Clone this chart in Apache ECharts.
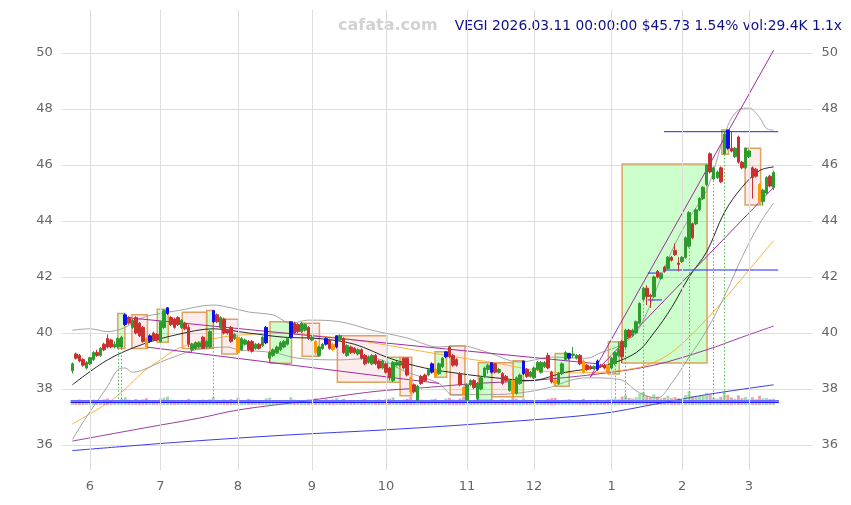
<!DOCTYPE html>
<html>
<head>
<meta charset="utf-8">
<script src="https://cdn.jsdelivr.net/npm/echarts@6/dist/echarts.min.js"></script>
<style>
html, body { margin: 0; padding: 0; background: #fff; }
#chart { width: 851px; height: 505px; }
</style>
</head>
<body>
<div id="chart"></div>
<script>
// trading-day index of the first session of each month, and its label
const monthTicks = [5, 25, 47, 68, 89, 112, 131, 153, 173, 192];
const monthLabels = ['6', '7', '8', '9', '10', '11', '12', '1', '2', '3'];

// daily OHLC, 2025-05-23 .. 2026-03-11 (200 sessions)
const opens = [
  38.65, 39.25, 39.2, 39.05, 38.75, 38.9, 39.05, 39.3, 39.2, 39.6, 39.8, 39.75, 39.5, 39.5, 39.5, 40.3, 40.55, 40.2, 40.55, 40.35,
  40.2, 39.8, 39.7, 40.0, 39.95, 39.7, 40.2, 40.7, 40.55, 40.5, 40.55, 40.2, 40.35, 40.2, 39.4, 39.45, 39.5, 39.85, 39.5, 39.5,
  40.4, 40.65, 40.2, 40.5, 40.1, 40.2, 39.8, 39.85, 39.4, 39.6, 39.7, 39.7, 39.45, 39.6, 39.55, 39.65, 39.1, 39.2, 39.3, 39.4,
  39.5, 39.6, 39.85, 40.35, 40.3, 40.05, 40.1, 40.2, 39.75, 39.7, 39.2, 39.45, 39.6, 39.75, 39.6, 39.5, 39.75, 39.8, 39.2, 39.5,
  39.45, 39.25, 39.4, 39.2, 38.95, 38.9, 39.2, 39.0, 38.75, 38.9, 38.75, 38.3, 38.85, 38.85, 39.1, 39.1, 38.4, 38.15, 37.6, 38.45,
  38.5, 38.5, 38.6, 38.7, 38.55, 38.8, 39.15, 39.5, 39.2, 39.05, 38.55, 38.05, 37.6, 38.15, 38.3, 37.65, 38.0, 38.45, 38.7, 38.6,
  38.9, 38.6, 38.55, 38.45, 37.95, 38.3, 37.85, 38.2, 38.55, 38.7, 38.45, 38.4, 38.7, 38.6, 38.8, 39.2, 38.6, 38.3, 38.2, 38.55,
  39.05, 39.1, 39.2, 39.1, 39.2, 39.0, 38.85, 38.8, 38.75, 38.7, 38.85, 38.85, 38.85, 38.75, 38.9, 39.2, 39.7, 39.5, 40.1, 39.9,
  40.0, 40.35, 41.2, 41.6, 41.35, 41.3, 42.2, 41.95, 42.35, 42.3, 42.7, 42.95, 42.5, 42.55, 42.7, 43.1, 43.9, 43.9, 44.4, 44.8,
  45.3, 46.4, 45.5, 45.55, 45.9, 46.4, 47.25, 46.6, 46.3, 47.0, 46.1, 45.9, 46.3, 45.9, 45.85, 45.3, 44.7, 45.0, 45.6, 45.2
];
const closes = [
  38.9, 39.1, 39.0, 38.85, 38.95, 39.12, 39.3, 39.2, 39.45, 39.4, 39.5, 39.5, 39.6, 39.8, 39.85, 40.65, 40.35, 40.45, 40.0, 39.9,
  39.7, 39.5, 39.9, 39.75, 39.75, 40.4, 40.8, 40.9, 40.3, 40.2, 40.3, 40.45, 40.15, 39.6, 39.6, 39.65, 39.65, 39.45, 39.7, 40.05,
  40.8, 40.4, 40.55, 40.0, 40.0, 39.7, 39.95, 39.3, 39.8, 39.75, 39.4, 39.35, 39.6, 39.45, 39.85, 40.2, 39.3, 39.4, 39.5, 39.65,
  39.7, 39.8, 40.4, 40.0, 40.05, 40.35, 40.3, 39.8, 39.85, 39.3, 39.5, 39.6, 39.8, 39.45, 39.4, 39.9, 39.9, 39.3, 39.55, 39.3,
  39.3, 39.4, 39.1, 38.9, 39.15, 39.2, 38.9, 38.75, 39.0, 38.6, 38.4, 38.95, 38.95, 38.95, 38.75, 38.5, 37.9, 37.9, 38.1, 38.2,
  38.3, 38.7, 38.9, 38.45, 38.9, 39.1, 39.33, 39.15, 38.85, 38.85, 38.15, 37.8, 38.15, 38.3, 38.05, 38.2, 38.4, 38.75, 38.85, 38.94,
  38.6, 38.7, 38.2, 38.3, 38.3, 37.85, 38.4, 38.5, 39.0, 38.45, 38.6, 38.75, 38.95, 38.95, 38.95, 38.75, 38.25, 38.2, 38.55, 38.9,
  39.3, 39.27, 39.25, 39.2, 38.9, 38.6, 38.7, 38.75, 38.8, 39.0, 38.8, 38.75, 38.6, 39.1, 39.3, 39.4, 39.15, 40.1, 39.85, 40.1,
  40.4, 41.05, 41.6, 41.3, 41.3, 42.0, 42.0, 42.1, 42.2, 42.7, 42.6, 42.8, 42.45, 42.7, 43.4, 44.3, 43.4, 44.4, 44.8, 45.2,
  46.0, 45.75, 45.9, 45.75, 45.4, 47.1, 46.6, 46.5, 46.6, 46.1, 45.9, 46.6, 46.5, 45.55, 45.6, 44.7, 45.1, 45.55, 45.25, 45.73
];
const lows = [
  38.55, 39.05, 38.95, 38.8, 38.7, 38.85, 39.0, 39.15, 39.15, 39.35, 39.45, 39.45, 39.45, 39.45, 39.45, 40.25, 40.3, 40.15, 39.95, 39.85,
  39.65, 39.45, 39.65, 39.7, 39.7, 39.65, 40.15, 40.65, 40.25, 40.15, 40.25, 40.15, 40.1, 39.5, 39.3, 39.4, 39.45, 39.45, 39.45, 39.45,
  40.35, 40.35, 40.15, 39.95, 39.95, 39.65, 39.75, 39.25, 39.35, 39.55, 39.35, 39.3, 39.4, 39.4, 39.5, 39.6, 38.95, 39.15, 39.25, 39.35,
  39.45, 39.55, 39.8, 39.95, 40.0, 40.0, 40.05, 39.75, 39.7, 39.2, 39.15, 39.4, 39.55, 39.4, 39.35, 39.45, 39.7, 39.25, 39.15, 39.25,
  39.25, 39.2, 39.05, 38.85, 38.9, 38.85, 38.85, 38.7, 38.7, 38.55, 38.3, 38.25, 38.8, 38.8, 38.7, 38.45, 37.8, 37.85, 37.5, 38.15,
  38.25, 38.45, 38.55, 38.42, 38.5, 38.75, 39.1, 39.1, 38.8, 38.8, 38.1, 37.79, 37.55, 38.1, 38.0, 37.6, 37.95, 38.4, 38.55, 38.55,
  38.55, 38.55, 38.15, 38.25, 37.9, 37.72, 37.8, 38.15, 38.5, 38.4, 38.4, 38.35, 38.65, 38.55, 38.75, 38.7, 38.2, 38.1, 38.15, 38.5,
  39.0, 39.05, 39.1, 39.05, 38.85, 38.55, 38.65, 38.7, 38.7, 38.65, 38.75, 38.7, 38.54, 38.7, 38.85, 39.15, 38.93, 39.45, 39.8, 39.85,
  39.95, 40.3, 41.15, 41.0, 40.9, 41.25, 41.95, 41.9, 42.15, 42.25, 42.55, 42.75, 42.2, 42.5, 42.65, 43.05, 43.35, 43.85, 44.35, 44.75,
  45.25, 45.7, 45.45, 45.5, 45.35, 46.38, 46.55, 46.45, 46.25, 46.05, 45.85, 45.85, 46.25, 44.8, 45.55, 44.6, 44.55, 44.95, 45.2, 45.1
];
const highs = [
  38.95, 39.3, 39.25, 39.1, 39.0, 39.15, 39.35, 39.4, 39.5, 39.65, 39.95, 39.8, 39.7, 39.85, 39.9, 40.7, 40.6, 40.5, 40.6, 40.4,
  40.25, 39.85, 39.95, 40.05, 40.0, 40.45, 40.85, 40.92, 40.6, 40.55, 40.6, 40.5, 40.4, 40.3, 39.65, 39.7, 39.7, 39.9, 39.75, 40.1,
  40.8, 40.7, 40.6, 40.55, 40.15, 40.25, 40.0, 39.9, 39.85, 39.8, 39.75, 39.75, 39.65, 39.65, 39.9, 40.25, 39.35, 39.45, 39.55, 39.7,
  39.75, 39.85, 40.4, 40.4, 40.35, 40.4, 40.35, 40.25, 39.9, 39.75, 39.55, 39.65, 39.85, 39.8, 39.65, 39.9, 39.95, 39.85, 39.6, 39.55,
  39.5, 39.45, 39.45, 39.25, 39.2, 39.25, 39.25, 39.05, 39.05, 38.95, 38.8, 39.0, 39.0, 39.0, 39.13, 39.13, 38.45, 38.2, 38.15, 38.5,
  38.55, 38.75, 38.95, 38.75, 38.95, 39.15, 39.33, 39.54, 39.25, 39.1, 38.6, 38.1, 38.2, 38.35, 38.35, 38.25, 38.45, 38.8, 38.9, 38.94,
  38.94, 38.75, 38.6, 38.5, 38.35, 38.35, 38.45, 38.55, 39.01, 38.75, 38.65, 38.8, 39.0, 39.0, 39.0, 39.3, 38.65, 38.35, 38.6, 38.95,
  39.35, 39.27, 39.5, 39.25, 39.25, 39.05, 38.9, 38.85, 38.85, 39.05, 38.9, 38.9, 38.9, 39.15, 39.35, 39.69, 39.75, 40.15, 40.15, 40.15,
  40.45, 41.1, 41.65, 41.7, 41.4, 42.05, 42.25, 42.15, 42.4, 42.75, 42.75, 43.2, 42.7, 42.75, 43.45, 44.35, 43.95, 44.45, 44.85, 45.25,
  46.04, 46.45, 45.95, 45.8, 45.95, 47.2, 47.25, 47.2, 46.65, 47.05, 46.15, 46.6, 46.55, 45.95, 45.9, 45.35, 45.15, 45.6, 45.65, 45.8
];
// volume, thousands of shares
const volumes = [
  22, 18, 25, 20, 16, 19, 24, 17, 21, 26, 30, 22, 18, 20, 28, 35, 24, 19, 27, 23,
  25, 31, 20, 18, 22, 29, 33, 38, 24, 21, 19, 22, 20, 28, 17, 16, 18, 24, 19, 26,
  36, 23, 21, 25, 18, 27, 20, 34, 22, 19, 28, 24, 17, 21, 18, 30, 33, 20, 18, 19,
  17, 21, 35, 24, 20, 18, 22, 26, 16, 30, 21, 18, 27, 23, 25, 31, 19, 28, 17, 22,
  20, 18, 24, 26, 17, 19, 23, 25, 18, 27, 29, 34, 18, 16, 24, 28, 36, 22, 31, 24,
  20, 19, 26, 28, 18, 21, 29, 33, 25, 22, 30, 38, 32, 19, 23, 27, 20, 22, 18, 25,
  21, 17, 26, 20, 24, 34, 28, 19, 30, 22, 18, 20, 19, 17, 18, 29, 31, 33, 22, 21,
  24, 27, 18, 16, 22, 28, 17, 15, 14, 24, 16, 15, 25, 27, 30, 26, 38, 44, 32, 29,
  35, 52, 58, 41, 36, 49, 38, 30, 33, 42, 31, 36, 30, 27, 45, 62, 40, 38, 41, 44,
  55, 48, 33, 29, 37, 58, 46, 34, 28, 44, 31, 36, 27, 35, 26, 41, 30, 32, 27, 29
];
const blueIdx = [15, 22, 27, 40, 55, 62, 72, 75, 102, 106, 119, 128, 141, 149, 186];
const orangeIdx = [21, 47, 69, 74, 96, 103, 111, 125, 137, 145, 152, 195];
const signalIdx = [13, 14, 40, 154, 157, 162, 175, 182, 185];

// indicator lines, [session index, price]
const maFast = [[0,38.15],[10,39.04],[20,39.6],[30,39.95],[40,40.15],[50,40.0],[60,39.85],[70,39.8],[80,39.6],[90,39.1],[100,38.75],[110,38.55],[120,38.4],[130,38.3],[140,38.6],[150,38.8],[160,39.3],[165,40.0],[170,40.9],[175,42.0],[180,42.9],[185,44.3],[190,45.2],[195,45.8],[199,45.93]];
const maMid = [[0,36.75],[10,37.5],[15,38.0],[20,38.6],[25,39.04],[30,39.45],[40,39.8],[50,39.95],[60,40.0],[70,39.9],[80,39.75],[90,39.55],[100,39.33],[110,39.12],[120,38.93],[130,38.7],[140,38.58],[150,38.6],[160,38.75],[165,38.95],[170,39.3],[175,39.85],[180,40.5],[185,41.2],[190,41.95],[195,42.7],[199,43.3]];
const maSlow = [[0,36.14],[20,36.6],[36,36.96],[47,37.25],[65,37.55],[85,37.9],[100,38.05],[115,38.2],[130,38.3],[150,38.55],[165,38.85],[180,39.4],[190,39.85],[199,40.25]];
const maLong = [[0,35.8],[30,36.1],[60,36.35],[90,36.55],[120,36.8],[150,37.12],[165,37.45],[180,37.8],[199,38.15]];
const bbUpper = [[0,40.1],[5,40.15],[10,40.05],[15,40.2],[20,40.55],[25,40.7],[30,40.8],[40,41.0],[45,40.9],[50,40.75],[57,40.64],[62,40.35],[67,40.46],[76,40.4],[85,40.1],[95,39.82],[104,39.5],[110,39.55],[118,39.3],[127,38.96],[136,39.14],[146,39.1],[150,39.3],[156,39.6],[161,40.2],[170,42.9],[175,44.1],[180,45.1],[186,47.4],[189,47.96],[192,48.03],[195,47.7],[197,47.3],[199,47.25]];
const bbLower = [[0,36.2],[4,37.0],[10,38.1],[13,38.7],[15,38.75],[17,38.6],[20,38.68],[25,38.96],[30,39.2],[35,39.4],[44,39.5],[47,39.4],[57,39.3],[64,39.1],[76,39.04],[85,39.1],[95,38.6],[104,38.2],[108,37.8],[118,37.8],[127,37.86],[136,38.07],[141,38.3],[146,38.4],[155,38.35],[161,37.86],[166,37.68],[170,38.2],[175,39.14],[180,40.1],[185,41.3],[190,42.7],[195,43.9],[199,44.64]];

// trend lines, [[from index, price], [to index, price]]
const trendLines = [
  [[15.4, 40.55], [149, 38.9]],
  [[21, 39.5], [104, 38.2]],
  [[147, 38.43], [199, 50.1]],
  [[147, 38.43], [199, 45.2]]
];
// horizontal levels [from index, to index, price]
const levels = [
  [167.9, 200.3, 47.19],
  [168.2, 200.3, 42.25],
  [163.3, 167.3, 42.14],
  [163.3, 167.3, 41.18]
];
const volLevels = [37.58, 37.52];
// zones [from index, to index, low, high, kind]
const boxes = [
  [12.9, 14.9, 39.45, 40.7, 'g'], [16.9, 21.3, 39.45, 40.65, 'p'], [24.1, 27.2, 39.67, 40.85, 'g'],
  [31.2, 38.1, 39.45, 40.74, 'p'], [38.1, 40.0, 39.45, 40.8, 'g'], [42.4, 47.1, 39.25, 40.49, 'p'],
  [56.1, 62.2, 38.92, 40.4, 'g'], [65.2, 70.1, 39.17, 40.35, 'p'], [75.2, 89.2, 38.24, 39.9, 'p'],
  [89.2, 93.0, 38.24, 39.13, 'g'], [93.0, 96.3, 37.76, 39.13, 'p'], [102.9, 106.2, 38.42, 39.33, 'g'],
  [107.2, 111.4, 37.79, 39.54, 'p'], [115.2, 119.0, 37.6, 38.94, 'g'], [119.0, 125.1, 37.72, 38.94, 'p'],
  [125.1, 128.0, 37.72, 39.01, 'g'], [137.0, 141.0, 38.1, 39.27, 'g'], [152.1, 155.2, 38.54, 39.69, 'g'],
  [156.0, 180.1, 38.93, 46.04, 'g'], [184.3, 186.2, 46.38, 47.25, 'g'], [190.9, 195.3, 44.57, 46.6, 'p']
];

const GREEN = '#2e9b2e', RED = '#c8312f', BLUE = '#1010ee', ORANGE = '#ff9900';
const VOL_BASE = 37.55;

const candleData = opens.map((o, i) => {
  const item = { value: [i, o, closes[i], lows[i], highs[i]] };
  let c = null;
  if (blueIdx.includes(i)) c = BLUE;
  else if (orangeIdx.includes(i)) c = ORANGE;
  if (c) item.itemStyle = { color: c, color0: c, borderColor: c, borderColor0: c };
  return item;
});
const volData = volumes.map((v, i) => ({
  value: [i, v],
  itemStyle: { color: closes[i] >= opens[i] ? 'rgba(60,170,60,0.45)' : 'rgba(210,60,60,0.45)' }
}));

function lineSeries(data, color, width, smooth, z) {
  return {
    type: 'line', xAxisIndex: 1, yAxisIndex: 1, data: data,
    showSymbol: false, smooth: smooth, clip: false, silent: true, z: z || 3,
    lineStyle: { color: color, width: width }
  };
}

const chart = echarts.init(document.getElementById('chart'));
const option = {
  animation: false,
  backgroundColor: '#fff',
  textStyle: { fontFamily: 'DejaVu Sans' },
  graphic: [
    { type: 'text', x: 338, y: 26, style: { text: 'cafata.com', fill: '#d2d2d2', font: 'bold 16px "DejaVu Sans"', verticalAlign: 'middle' } },
    { type: 'text', x: 842, y: 26, style: { text: 'VEGI 2026.03.11 00:00:00 $45.73 1.54% vol:29.4K 1.1x', fill: '#10108a', font: '13.8px "DejaVu Sans"', align: 'right', verticalAlign: 'middle' } }
  ],
  grid: [
    { left: 61.8, right: 38.6, top: 10, bottom: 35, containLabel: false, outerBoundsMode: 'none' },
    { left: 61.8, right: 38.6, top: 53, bottom: 60, containLabel: false, outerBoundsMode: 'none' }
  ],
  xAxis: [
    {
      type: 'value', gridIndex: 0, min: -3, max: 210, interval: 1,
      axisLine: { show: false }, axisTick: { show: false }, splitLine: { show: false },
      axisLabel: {
        color: '#666', fontSize: 13, margin: 10,
        formatter: v => { const k = monthTicks.indexOf(v); return k >= 0 ? monthLabels[k] : ''; }
      }
    },
    { type: 'value', gridIndex: 1, min: -3, max: 210, show: false }
  ],
  yAxis: [
    { type: 'value', gridIndex: 0, min: 0, max: 1, show: false },
    {
      type: 'value', gridIndex: 1, min: 36, max: 50, interval: 2, position: 'left',
      axisLine: { show: false }, axisTick: { show: false },
      splitLine: { lineStyle: { color: '#dddddd', width: 1 } },
      axisLabel: { color: '#666', fontSize: 13, margin: 9 }
    },
    {
      type: 'value', gridIndex: 1, min: 36, max: 50, interval: 2, position: 'right',
      axisLine: { show: false }, axisTick: { show: false }, splitLine: { show: false },
      axisLabel: { color: '#666', fontSize: 13, margin: 9 }
    },
    { type: 'value', gridIndex: 1, min: -182, max: 1600, show: false }
  ],
  series: [
    {
      // month grid lines across the full frame
      type: 'line', xAxisIndex: 0, yAxisIndex: 0, data: [], silent: true,
      markLine: {
        silent: true, symbol: ['none', 'none'], label: { show: false },
        lineStyle: { color: '#dddddd', width: 1, type: 'solid' },
        data: monthTicks.map(t => ({ xAxis: t }))
      }
    },
    {
      // zones
      type: 'line', xAxisIndex: 1, yAxisIndex: 1, data: [], silent: true, z: 1,
      markArea: {
        silent: true,
        data: boxes.map(b => [
          { xAxis: b[0], yAxis: b[2], itemStyle: {
            color: b[4] === 'g' ? 'rgba(0,255,0,0.2)' : 'rgba(240,110,110,0.13)',
            borderColor: '#e0a060', borderWidth: 1.5 } },
          { xAxis: b[1], yAxis: b[3] }
        ])
      }
    },
    lineSeries(maLong, '#2424e6', 0.9, 0.35),
    lineSeries(maSlow, '#8e2a8e', 0.9, 0.35),
    lineSeries(maMid, '#ffa726', 0.9, 0.35),
    lineSeries(bbUpper, '#9a9a9a', 0.9, 0.35),
    lineSeries(bbLower, '#9a9a9a', 0.9, 0.35),
    lineSeries(maFast, '#111111', 0.9, 0.35)
  ]
    .concat(trendLines.map(t => lineSeries(t, '#a02ca0', 1, false, 4)))
    .concat(levels.map(l => lineSeries([[l[0], l[2]], [l[1], l[2]]], '#2222ff', 1, false, 4)))
    .concat(volLevels.map((p, k) => lineSeries([[-0.5, p], [200.5, p]], k === 0 ? '#6a6aff' : '#1a1aff', 1.3, false, 4)))
    .concat([
      {
        type: 'bar', xAxisIndex: 1, yAxisIndex: 3, data: volData, barWidth: 3, silent: true, z: 4
      },
      {
        type: 'candlestick', xAxisIndex: 1, yAxisIndex: 1, z: 5, silent: true,
        dimensions: ['idx', 'open', 'close', 'lowest', 'highest'],
        encode: { x: 'idx', y: ['open', 'close', 'lowest', 'highest'] },
        barWidth: 3,
        itemStyle: { color: GREEN, color0: RED, borderColor: GREEN, borderColor0: RED, borderWidth: 1 },
        data: candleData,
        markLine: {
          silent: true, symbol: ['none', 'none'], label: { show: false },
          lineStyle: { color: '#55bb55', width: 1, type: [1.5, 2] },
          data: signalIdx.map(i => [{ coord: [i, lows[i]] }, { coord: [i, VOL_BASE] }])
        }
      }
    ])
};
chart.setOption(option);
</script>
</body>
</html>
